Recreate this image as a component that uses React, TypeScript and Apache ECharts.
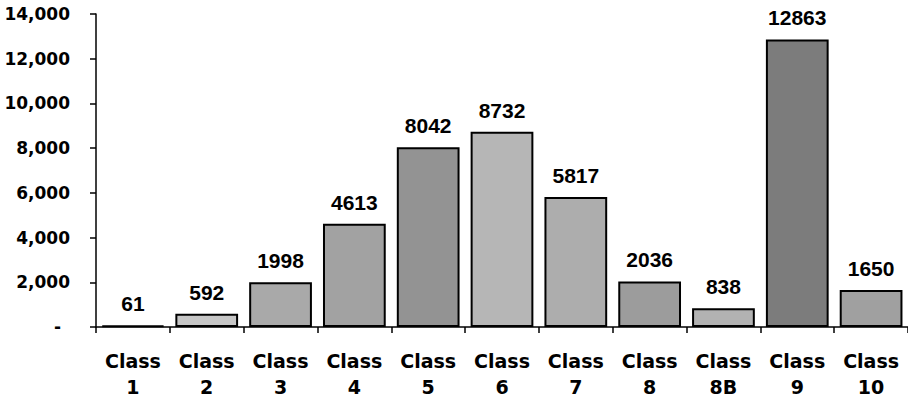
import React, { useEffect, useRef } from "react";
import * as echarts from "echarts";

const categories = ["Class\n1", "Class\n2", "Class\n3", "Class\n4", "Class\n5", "Class\n6", "Class\n7", "Class\n8", "Class\n8B", "Class\n9", "Class\n10"];
const values = [61, 592, 1998, 4613, 8042, 8732, 5817, 2036, 838, 12863, 1650];
const barColors = ["#555555", "#c6c6c6", "#a9a9a9", "#a2a2a2", "#939393", "#b6b6b6", "#adadad", "#9c9c9c", "#b2b2b2", "#7c7c7c", "#a0a0a0"];
const yTicks = [0, 2000, 4000, 6000, 8000, 10000, 12000, 14000];

export default function App() {
  const ref = useRef<HTMLDivElement>(null);
  useEffect(() => {
    document.body.style.margin = "0";
    const chart = echarts.init(ref.current!, undefined, { renderer: "svg" });
    const wide = "'DejaVu Sans', sans-serif";
    const arial = "'Liberation Sans', Arial, sans-serif";
    chart.setOption({
      animation: false,
      grid: { left: 96, right: -8, top: 14, bottom: 73, containLabel: false },
      xAxis: {
        type: "category",
        data: categories,
        axisLine: { lineStyle: { color: "#000", width: 1.5 } },
        axisTick: { show: true, length: 6, alignWithLabel: false, lineStyle: { color: "#000", width: 1.5 } },
        axisLabel: {
          color: "#000",
          fontFamily: wide,
          fontWeight: "bold",
          fontSize: 19,
          lineHeight: 26,
          margin: 21,
          interval: 0,
        },
      },
      yAxis: {
        type: "value",
        min: yTicks[0],
        max: yTicks[yTicks.length - 1],
        interval: 2000,
        splitLine: { show: false },
        axisLine: { show: true, lineStyle: { color: "#000", width: 1.5 } },
        axisTick: { show: true, length: 6, lineStyle: { color: "#000", width: 1.5 } },
        axisLabel: {
          color: "#000",
          fontFamily: wide,
          fontWeight: "bold",
          fontSize: 17,
          margin: 26,
          formatter: (v: number) => (v === 0 ? "{d|-}" : v.toLocaleString("en-US")),
          rich: {
            d: { fontFamily: wide, fontWeight: "bold", fontSize: 17, color: "#000", padding: [0, 9, 0, 0] },
          },
        },
      },
      series: [
        {
          type: "bar",
          data: values.map((v, i) => ({ value: v, itemStyle: { color: barColors[i] } })),
          barCategoryGap: "15%",
          itemStyle: { borderColor: "#000", borderWidth: 2 },
          label: {
            show: true,
            position: "top",
            distance: 11,
            color: "#000",
            fontFamily: arial,
            fontWeight: "bold",
            fontSize: 21,
          },
        },
      ],
    });
    return () => chart.dispose();
  }, []);
  return <div ref={ref} style={{ width: 908, height: 400 }} />;
}
